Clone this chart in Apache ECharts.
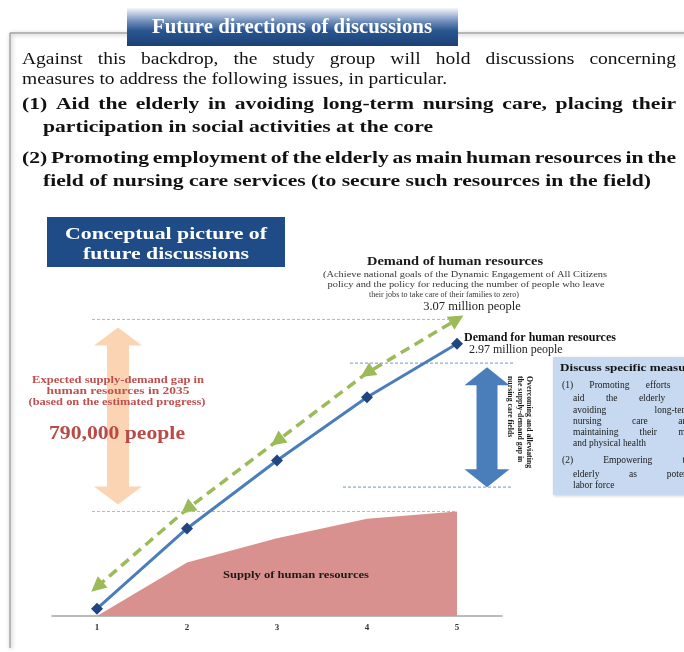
<!DOCTYPE html>
<html>
<head>
<meta charset="utf-8">
<script src="https://cdn.jsdelivr.net/npm/echarts@6/dist/echarts.min.js"></script>
<style>
  html, body { margin: 0; padding: 0; background: #ffffff; }
  #main { width: 684px; height: 652px; }
</style>
</head>
<body>
<div id="main"></div>
<script>
// Periods along the horizontal axis
const categories = ['1', '2', '3', '4', '5'];
// Demand of human resources with policy goals achieved (million people)
const demandPolicy = [1.97, 2.29, 2.57, 2.85, 3.07];
// Demand for human resources (million people)
const demandBase = [1.88, 2.21, 2.49, 2.75, 2.97];
// Supply of human resources (million people)
const supply = [1.85, 2.07, 2.17, 2.25, 2.28];
// Range to be covered by the specific measures (million people)
const measureBand = [2.89, 2.38];
// Visible value range of the conceptual picture
const valueRange = [1.85, 3.15];

const SERIF = '"Liberation Serif", "Times New Roman", serif';
const chart = echarts.init(document.getElementById('main'), null, { renderer: 'canvas' });

const millions = v => v.toFixed(2) + ' million people';

chart.setOption({
  animation: false,
  grid: { left: 52, right: 182, top: 300, bottom: 36 },
  xAxis: {
    type: 'category', data: categories, boundaryGap: true,
    axisLine: { lineStyle: { color: '#a6a6a6', width: 1.5 } },
    axisTick: { length: 4, lineStyle: { color: '#a6a6a6' } },
    axisLabel: { fontFamily: SERIF, fontWeight: 'bold', fontSize: 9, color: '#333', margin: 7 }
  },
  yAxis: { type: 'value', min: valueRange[0], max: valueRange[1], show: false },
  series: [
    {
      name: 'Supply of human resources', type: 'line', data: supply, z: 2,
      symbol: 'none', lineStyle: { width: 0 },
      areaStyle: { color: '#d9918f', opacity: 1 }
    },
    {
      name: 'Demand for human resources', type: 'line', data: demandBase, z: 4,
      symbol: 'diamond', symbolSize: 12,
      lineStyle: { color: '#4a7ebb', width: 3 },
      itemStyle: { color: '#1f4680' }
    },
    {
      name: 'Demand of human resources', type: 'line', data: demandPolicy, z: 3,
      symbol: 'triangle', symbolSize: 15,
      lineStyle: { color: '#9bbb59', width: 3.5, type: [10, 6] },
      itemStyle: { color: '#9bbb59' }
    }
  ]
});

const toPx = (i, v) => chart.convertToPixel({ xAxisIndex: 0, yAxisIndex: 0 }, [i, v]);
const yOf = v => toPx(0, v)[1];

// Arrowheads on the dashed line follow the direction of the line
const gp = demandPolicy.map((v, i) => toPx(i, v));
const angle = (a, b) => Math.atan2(-(b[1] - a[1]), b[0] - a[0]) * 180 / Math.PI;
const greenData = demandPolicy.map((v, i) => {
  let dir;
  if (i === demandPolicy.length - 1) dir = angle(gp[i - 1], gp[i]);
  else if (i === 0) dir = angle(gp[1], gp[0]);
  else dir = (angle(gp[i], gp[i - 1]) + angle(gp[i + 1], gp[i])) / 2;
  const item = { value: v, symbolRotate: dir - 90 };
  if (i === demandPolicy.length - 1) {
    item.label = {
      show: true, position: 'top', distance: 0, offset: [15, 4],
      formatter: p => millions(p.value),
      fontFamily: SERIF, fontSize: 12.5, color: '#222'
    };
  }
  return item;
});

const blueData = demandBase.map((v, i) => {
  if (i !== demandBase.length - 1) return v;
  return {
    value: v,
    label: {
      show: true, position: 'right', distance: 1, offset: [0, 0],
      formatter: p => '{a|Demand for human resources}\n{b|' + millions(p.value) + '}',
      rich: {
        a: { fontFamily: SERIF, fontWeight: 'bold', fontSize: 12, color: '#111', lineHeight: 12 },
        b: { fontFamily: SERIF, fontSize: 12, color: '#222', lineHeight: 12, padding: [0, 0, 0, 5] }
      }
    }
  };
});

const supplyData = supply.map((v, i) => {
  if (i !== supply.length - 1) return v;
  return {
    value: v,
    label: {
      show: true, position: 'right', distance: 1,
      formatter: p => millions(p.value),
      fontFamily: SERIF, fontSize: 12, color: '#222'
    }
  };
});

// ---- text helpers ----
const ctx2d = document.createElement('canvas').getContext('2d');
function textWidth(s, size, weight) {
  ctx2d.font = (weight || 'normal') + ' ' + size + 'px "Liberation Serif"';
  return ctx2d.measureText(s).width;
}
function label(s, x, y, o) {
  o = o || {};
  const size = o.size || 12, weight = o.weight || 'normal';
  const sx = o.width ? o.width / textWidth(s, size, weight) : (o.sx || 1);
  return {
    type: 'text', x: x, y: y, scaleX: sx, rotation: o.rotation || 0, z: o.z || 20,
    style: {
      text: s, fontSize: size, fontWeight: weight, fontFamily: SERIF,
      fill: o.color || '#111', align: o.align || 'left', verticalAlign: o.valign || 'middle',
      lineHeight: o.lineHeight || undefined, opacity: o.opacity == null ? 1 : o.opacity
    }
  };
}
// Words spread between x0 and x1 (justified line)
function justified(s, x0, x1, y, o) {
  const sx = o.sx || 1;
  const words = s.split(' ');
  const ws = words.map(w => textWidth(w, o.size, o.weight) * sx);
  const gap = (x1 - x0 - ws.reduce((a, b) => a + b, 0)) / (words.length - 1);
  let x = x0;
  return words.map((w, i) => { const e = label(w, x, y, o); x += ws[i] + gap; return e; });
}
function dblArrow(cx, top, bottom, headW, headH, shaftW, color) {
  const h = headW / 2, s = shaftW / 2;
  return {
    type: 'polygon', z: 5,
    shape: { points: [
      [cx, top], [cx + h, top + headH], [cx + s, top + headH], [cx + s, bottom - headH],
      [cx + h, bottom - headH], [cx, bottom], [cx - h, bottom - headH], [cx - s, bottom - headH],
      [cx - s, top + headH], [cx - h, top + headH]
    ] },
    style: { fill: color }
  };
}
function hDash(x1, x2, y, color, width) {
  return {
    type: 'line', z: 4, shape: { x1: x1, y1: y, x2: x2, y2: y },
    style: { stroke: color, lineWidth: width || 1, lineDash: [3, 2] }
  };
}

const g = [];

// Page frame
const frameStyle = { stroke: '#a3a3a3', lineWidth: 1.5, shadowBlur: 4, shadowColor: 'rgba(0,0,0,0.35)', shadowOffsetX: 1, shadowOffsetY: 1 };
g.push({ type: 'line', z: 1, shape: { x1: 10, y1: 33, x2: 690, y2: 33 }, style: frameStyle });
g.push({ type: 'line', z: 1, shape: { x1: 10, y1: 33, x2: 10, y2: 648 }, style: frameStyle });

// Heading tab
g.push({
  type: 'rect', z: 8, shape: { x: 127, y: 8, width: 331, height: 38 },
  style: { fill: { type: 'linear', x: 0, y: 0, x2: 0, y2: 1, colorStops: [
    { offset: 0, color: '#f4f7fb' }, { offset: 0.35, color: '#6f8fbb' },
    { offset: 0.6, color: '#2a5590' }, { offset: 1, color: '#1b4276' }
  ] } }
});
g.push(label('Future directions of discussions', 292, 28, { size: 20, weight: 'bold', color: '#ffffff', align: 'center', width: 280 }));

// Introductory paragraph
const bodySize = 16;
const bodySx = 425 / textWidth('measures to address the following issues, in particular.', bodySize);
const boldSize = 17.5;
const boldSx = 608 / textWidth('field of nursing care services (to secure such resources in the field)', boldSize, 'bold');
const body = { size: bodySize, sx: bodySx, color: '#111' };
const bold = { size: boldSize, sx: boldSx, weight: 'bold', color: '#111' };
g.push(...justified('Against this backdrop, the study group will hold discussions concerning', 22, 676, 60, body));
g.push(label('measures to address the following issues, in particular.', 22, 80, body));
g.push(...justified('(1) Aid the elderly in avoiding long-term nursing care, placing their', 22, 676, 104, bold));
g.push(label('participation in social activities at the core', 43, 127, bold));
g.push(...justified('(2) Promoting employment of the elderly as main human resources in the', 22, 676, 158, bold));
g.push(label('field of nursing care services (to secure such resources in the field)', 43, 181, bold));

// Box title of the conceptual picture
g.push({ type: 'rect', z: 8, shape: { x: 47, y: 217, width: 238, height: 50 }, style: { fill: '#1f4b86' } });
g.push(label('Conceptual picture of', 166, 235, { size: 17, weight: 'bold', color: '#ffffff', align: 'center', width: 202 }));
g.push(label('future discussions', 166, 255, { size: 17, weight: 'bold', color: '#ffffff', align: 'center', width: 166 }));

// Reference levels
const yTop = yOf(demandPolicy[demandPolicy.length - 1]);
const ySup = yOf(supply[supply.length - 1]);
const yB1 = yOf(measureBand[0]);
const yB2 = yOf(measureBand[1]);
g.push(hDash(92, 452, yTop, '#e4a3a3'));
g.push(hDash(92, 455, ySup, '#e4a3a3'));
g.push(hDash(350, 513, yB1, '#8faadc', 1.2));
g.push(hDash(343, 513, yB2, '#8faadc', 1.2));

// Supply-demand gap arrow and its note
g.push(dblArrow(118, yTop + 8, ySup - 7, 48, 18, 22, '#fbd4b4'));
const gap = Math.round((demandPolicy[demandPolicy.length - 1] - supply[supply.length - 1]) * 1e6);
const red = '#c0504d';
g.push(label('Expected supply-demand gap in', 118, 381, { size: 9.5, weight: 'bold', color: red, align: 'center', width: 172 }));
g.push(label('human resources in 2035', 118, 392, { size: 9.5, weight: 'bold', color: red, align: 'center', width: 143 }));
g.push(label('(based on the estimated progress)', 117, 403, { size: 9.5, weight: 'bold', color: red, align: 'center', width: 177 }));
g.push(label(gap.toLocaleString('en-US') + ' people', 117, 434, { size: 19, weight: 'bold', color: '#b94a47', align: 'center', width: 136 }));

// Measures arrow with its vertical caption
g.push(dblArrow(487, yB1 + 4, yB2, 45, 18, 21, '#4a7ebb'));
g.push(label('Overcoming and alleviating\nthe supply-demand gap in\nnursing care fields', 534, 376,
  { size: 7.8, weight: 'bold', color: '#1a1a1a', valign: 'top', rotation: -Math.PI / 2, lineHeight: 9.5 }));

// Heading of the policy demand line
g.push(label('Demand of human resources', 455, 262, { size: 12, weight: 'bold', color: '#1a1a1a', align: 'center', width: 176 }));
g.push(label('(Achieve national goals of the Dynamic Engagement of All Citizens', 465, 275, { size: 7.5, color: '#333', align: 'center', width: 284 }));
g.push(label('policy and the policy for reducing the number of people who leave', 466, 285, { size: 7.5, color: '#333', align: 'center', width: 277 }));
g.push(label('their jobs to take care of their families to zero)', 444, 295, { size: 7.5, color: '#333', align: 'center', width: 150 }));

// Supply area caption
g.push(label('Supply of human resources', 296, 576, { size: 9.5, weight: 'bold', color: '#1a1a1a', align: 'center', width: 146 }));

// Box of specific measures
g.push({
  type: 'rect', z: 6, shape: { x: 553, y: 357, width: 150, height: 138 },
  style: { fill: '#c6d9f1', shadowBlur: 3, shadowColor: 'rgba(0,0,0,0.2)', shadowOffsetX: 1, shadowOffsetY: 1 }
});
const bx = { size: 9.5, color: '#1a1a1a' };
g.push(label('Discuss specific measures', 560, 368, { size: 10.5, weight: 'bold', color: '#111', width: 142 }));
g.push(...justified('(1) Promoting efforts to', 562, 694, 385, bx));
g.push(...justified('aid the elderly in', 573, 694, 398, bx));
g.push(...justified('avoiding long-term', 573, 692, 410, bx));
g.push(...justified('nursing care and', 573, 692, 421, bx));
g.push(...justified('maintaining their mental', 573, 704, 432, bx));
g.push(label('and physical health', 573, 443, { size: 9.5, color: '#1a1a1a', width: 73 }));
g.push(...justified('(2) Empowering the', 562, 694, 460, bx));
g.push(...justified('elderly as potential', 573, 700, 474, bx));
g.push(label('labor force', 573, 485, bx));

chart.setOption({
  series: [{ data: supplyData }, { data: blueData }, { data: greenData }],
  graphic: g
});
</script>
</body>
</html>
